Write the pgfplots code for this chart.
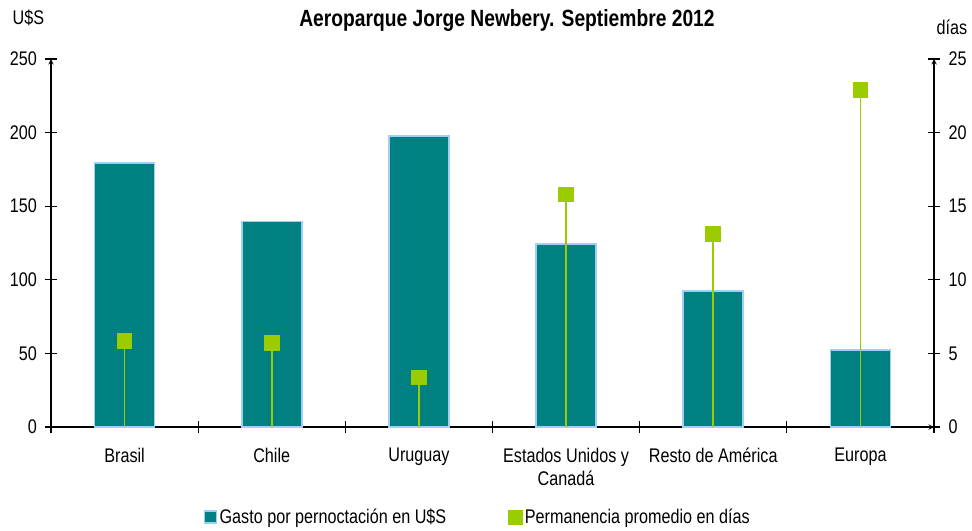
\documentclass[border=0pt]{standalone}
\usepackage{pgfplots}
\pgfplotsset{compat=1.18}
\usepackage{fontspec}
\setmainfont{Liberation Sans}[FakeStretch=0.82]
\definecolor{barteal}{RGB}{0,128,128}
\definecolor{baredge}{RGB}{160,205,250}
\definecolor{lime}{RGB}{155,204,0}
\newcommand{\fs}{\fontsize{14.8pt}{17pt}\selectfont}
\begin{document}
\begin{tikzpicture}[font=\fs]
\pgfplotsset{
  base/.style={width=662.25pt, height=276pt, scale only axis,
    xmin=-0.5, xmax=5.5, ymin=0,
    axis line style={-, black, line width=0.8pt},
    every outer x axis line/.append style={-},
    every outer y axis line/.append style={-},
    tick style={black, line width=0.8pt},
    tick align=center, major tick length=9pt,
    /pgf/number format/assume math mode=true,
    ticklabel style={font=\fs},
  }
}
\begin{axis}[base, name=ax, ymax=250, ytick={0,50,...,250},
  axis x line=bottom, axis y line=left,
  yticklabel style={xshift=-2.5pt},
  xtick={-0.5,0.5,...,5.5}, x tick label as interval,
  xticklabels={Brasil, Chile, Uruguay, {Estados Unidos y\\Canadá}, Resto de América, Europa},
  xticklabel style={align=center, text depth=0pt, yshift=-8pt},
  legend style={at={(0.4836,-0.2446)}, anchor=center, draw=none, fill=none,
    legend columns=2, /tikz/every even column/.append style={column sep=44pt},
    font=\fs},
  legend cell align=left]
\addplot[ybar, bar width=45pt, fill=barteal, draw=baredge, line width=1.2pt,
  legend image code/.code={\draw[fill=barteal, draw=baredge, line width=1pt] (0pt,-4.5pt) rectangle (9pt,4.5pt);}]
  coordinates {(0,179.5) (1,139.5) (2,197.5) (3,124.5) (4,92.5) (5,52.5)};
\addlegendentry{Gasto por pernoctación en U\$S}
\addlegendimage{legend image code/.code={\fill[lime] (0pt,-5.25pt) rectangle (10.5pt,5.25pt);}}
\addlegendentry{Permanencia promedio en días}
\end{axis}
\begin{axis}[base, ymax=25, ytick={0,5,...,25},
  axis x line=none, axis y line=right,
  yticklabel style={xshift=3pt}]
\addplot[ycomb, color=lime, line width=1.2pt, mark=square*, mark size=5.25pt,
  mark options={fill=lime, draw=lime}]
  coordinates {(0,5.85) (1,5.7) (2,3.35) (3,15.8) (4,13.1) (5,22.9)};
\end{axis}
\node at ([shift={(-17pt,306.75pt)}]ax.south west) {U\$S};
\node at ([shift={(675.75pt,300pt)}]ax.south west) {días};
\node[font=\bfseries\fontsize{17.6pt}{20pt}\selectfont] at ([shift={(342pt,305.25pt)}]ax.south west) {Aeroparque Jorge Newbery. Septiembre 2012};
\path ([shift={(-38.25pt,-74.25pt)}]ax.south west) rectangle ([shift={(690.75pt,320.25pt)}]ax.south west);
\end{tikzpicture}
\end{document}
